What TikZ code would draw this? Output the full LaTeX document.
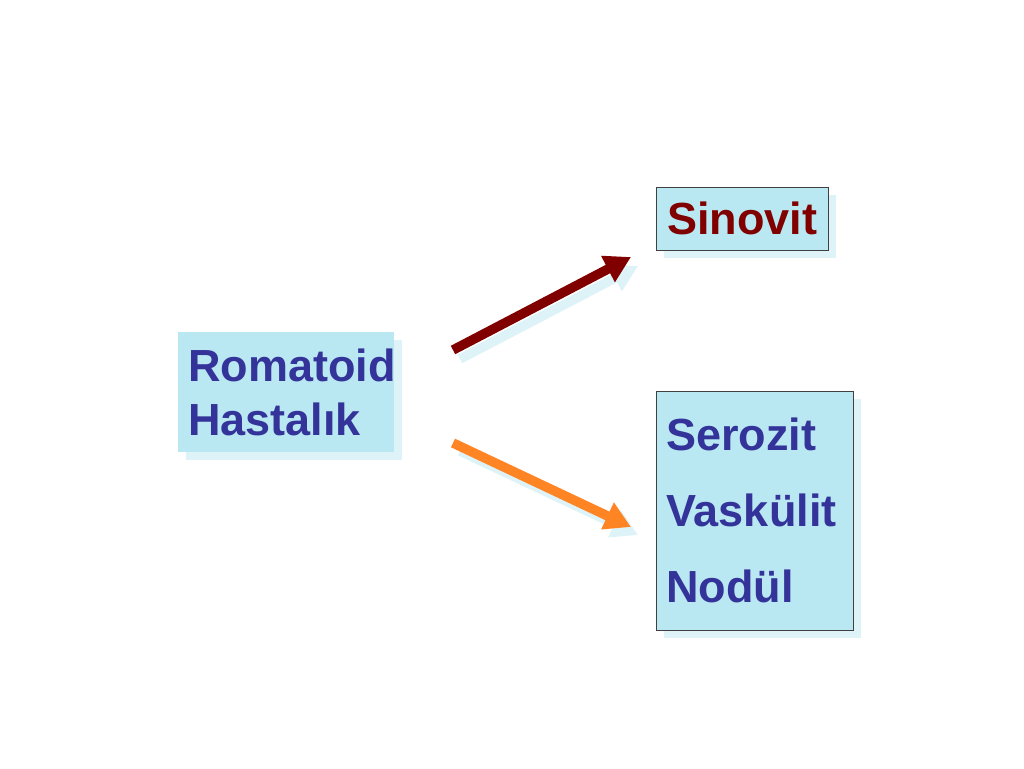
\documentclass[tikz,border=0pt]{standalone}
\usepackage{fontspec}
\setmainfont{Liberation Sans}
\usetikzlibrary{shadows,arrows.meta}
\definecolor{boxfill}{HTML}{B9E8F3}
\definecolor{shadowc}{HTML}{DDF3F8}
\definecolor{txtblue}{HTML}{333399}
\definecolor{darkred}{HTML}{800000}
\definecolor{orng}{HTML}{FF8524}
\definecolor{edge}{HTML}{404040}
\tikzset{
  box/.style={fill=boxfill, inner sep=0pt, anchor=north west,
    drop shadow={shadow xshift=8pt, shadow yshift=-8pt, fill=shadowc, opacity=1}},
  bigtxt/.style={font=\bfseries\fontsize{45}{54}\selectfont},
  arrowline/.style={line width=9.5pt, -{Triangle[length=26pt,width=28pt]}},
}
\begin{document}
\begin{tikzpicture}[x=1pt,y=-1pt]
\useasboundingbox[fill=white] (0,0) rectangle (1024,768);
\node[box, minimum width=216pt, minimum height=120pt, text width=196pt, align=left,
  bigtxt, text=txtblue, inner xsep=10pt] (rom) at (178,332) {Romatoid\\Hastalık};
\node[box, draw=edge, line width=0.8pt, minimum width=172pt, minimum height=63pt,
  bigtxt, text=darkred] (sin) at (656,187) {Sinovit};
\node[box, draw=edge, line width=0.8pt, minimum width=197pt, minimum height=239pt,
  text width=177pt, inner xsep=10pt, align=left, text=txtblue,
  font=\bfseries\fontsize{45}{76}\selectfont] (ser) at (656,391) {Serozit\\Vaskülit\\Nodül};
% arrow end points
\coordinate (r1) at (453,350);
\coordinate (s1) at (631,257);
\coordinate (r2) at (453,443);
\coordinate (s2) at (631,527);
% shadows of arrows
\draw[arrowline, shadowc] ([shift={(7,9)}]r1) -- ([shift={(7,9)}]s1);
\draw[arrowline, shadowc] ([shift={(7,8)}]r2) -- ([shift={(7,8)}]s2);
\draw[arrowline, darkred] (r1) -- (s1);
\draw[arrowline, orng] (r2) -- (s2);
\end{tikzpicture}
\end{document}
